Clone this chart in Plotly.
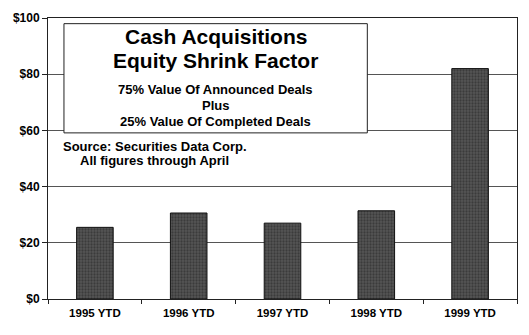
import plotly.graph_objects as go

categories = ["1995 YTD", "1996 YTD", "1997 YTD", "1998 YTD", "1999 YTD"]
values = [25.5, 30.6, 27.0, 31.4, 82.0]
y_ticks = [0, 20, 40, 60, 80, 100]
y_tick_labels = ["$0", "$20", "$40", "$60", "$80", "$100"]

title_lines = ["Cash Acquisitions", "Equity Shrink Factor"]
sub_lines = ["75% Value Of Announced Deals", "Plus", "25% Value Of Completed Deals"]
source_lines = ["Source: Securities Data Corp.", "All figures through April"]

W, H = 529, 335
L, R, T, B = 48, 11, 16, 36
PW, PH = W - L - R, H - T - B


def px(x):
    return (x - L) / PW


def py(y):
    return (H - B - y) / PH


FONT = "Liberation Sans, Arial, sans-serif"

fig = go.Figure()
fig.add_trace(go.Bar(
    x=categories, y=values, width=0.39,
    marker=dict(color="#444444", line=dict(color="#111111", width=1),
                pattern=dict(shape=".", fgcolor="#222222", bgcolor="#555555", size=3, solidity=0.45)),
    showlegend=False,
))

shapes = [dict(type="rect", xref="paper", yref="paper",
               x0=px(64), x1=px(368), y0=py(131.7), y1=py(21.7),
               line=dict(color="#222222", width=1), fillcolor="white", layer="above")]

annotations = []
for txt, yc in zip(title_lines, [35.0, 58.5]):
    annotations.append(dict(text="<b>%s</b>" % txt, x=px(216), y=py(yc), xref="paper", yref="paper",
                            xanchor="center", yanchor="middle", showarrow=False,
                            font=dict(family=FONT, size=21, color="black")))
for txt, yc in zip(sub_lines, [88.5, 104.5, 120.5]):
    annotations.append(dict(text="<b>%s</b>" % txt, x=px(216), y=py(yc), xref="paper", yref="paper",
                            xanchor="center", yanchor="middle", showarrow=False,
                            font=dict(family=FONT, size=13, color="black")))
for txt, yc in zip(source_lines, [145, 160]):
    annotations.append(dict(text="<b>%s</b>" % txt, x=px(155), y=py(yc), xref="paper", yref="paper",
                            xanchor="center", yanchor="middle", showarrow=False,
                            font=dict(family=FONT, size=13, color="black")))

fig.update_layout(
    width=W, height=H,
    margin=dict(l=L, r=R, t=T, b=B, pad=0),
    paper_bgcolor="white", plot_bgcolor="white",
    shapes=shapes, annotations=annotations,
    xaxis=dict(showline=True, linecolor="#222222", linewidth=1, mirror=True,
               ticks="outside", tickson="boundaries", ticklen=4, tickcolor="#222222",
               ticklabelstandoff=3,
               showgrid=False, tickfont=dict(family=FONT, size=11.5, color="black"),
               tickprefix="<b>", ticksuffix="</b>"),
    yaxis=dict(range=[0, 100], tickvals=y_ticks, ticktext=["<b>%s</b>" % t for t in y_tick_labels],
               showline=True, linecolor="#222222", linewidth=1, mirror=True,
               ticks="outside", ticklen=5, tickcolor="#222222",
               showgrid=True, gridcolor="#555555", gridwidth=1, zeroline=False,
               tickfont=dict(family=FONT, size=12, color="black")),
)

fig.write_html("out.html")
